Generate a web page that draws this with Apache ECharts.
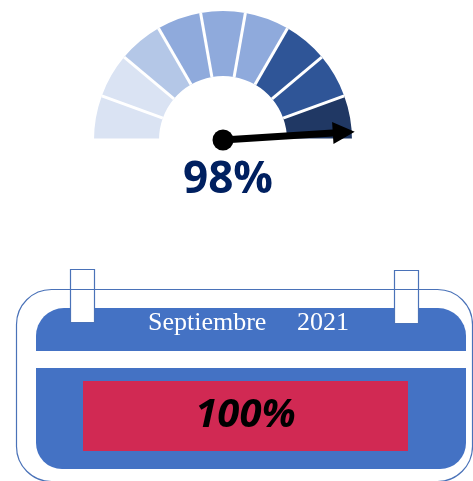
<!DOCTYPE html>
<html>
<head>
<meta charset="utf-8">
<script src="https://cdn.jsdelivr.net/npm/echarts@6/dist/echarts.min.js"></script>
<style>
  html, body { margin: 0; padding: 0; background: #fff; }
  #chart { width: 473px; height: 481px; }
</style>
</head>
<body>
<div id="chart"></div>
<script>
// gauge data
const segmentColors = ['#dae3f3', '#dae3f3', '#b4c7e7', '#8faadc', '#8faadc', '#8faadc', '#2f5597', '#2f5597', '#203864'];
const gaugeValue = 98;

// calendar data
const monthLabel = 'Septiembre';
const yearLabel = '2021';
const progressCategory = ['Septiembre 2021'];
const progressValue = [100];

const blue = '#4472c4';
const edge = '#4a72b8';

let myChart = echarts.init(document.getElementById('chart'));

// color stops for the gauge ring, one per segment
let stops = segmentColors.map((c, i) => [(i + 1) / segmentColors.length, c]);

let option = {
  animation: false,
  graphic: [
    {
      type: 'rect', z: 0,
      shape: { x: 16.5, y: 289.5, width: 456, height: 192, r: 35 },
      style: { fill: '#fff', stroke: 'none' }
    },
    {
      type: 'rect', z: 1,
      shape: { x: 36, y: 308, width: 430, height: 43, r: [28, 28, 0, 0] },
      style: { fill: blue }
    },
    {
      type: 'rect', z: 1,
      shape: { x: 36, y: 368, width: 430, height: 101, r: [0, 0, 26, 26] },
      style: { fill: blue }
    },
    {
      type: 'rect', z: 2,
      shape: { x: 70.5, y: 269.5, width: 24, height: 53 },
      style: { fill: '#fff', stroke: edge, lineWidth: 1.2 }
    },
    {
      type: 'rect', z: 2,
      shape: { x: 394.5, y: 270.5, width: 24, height: 53 },
      style: { fill: '#fff', stroke: edge, lineWidth: 1.2 }
    },
    {
      type: 'rect', z: 3,
      shape: { x: 16.5, y: 289.5, width: 456, height: 192, r: 35 },
      style: { fill: 'none', stroke: edge, lineWidth: 1.2 }
    },
    {
      type: 'text', z: 4, x: 148, y: 323,
      style: {
        text: monthLabel, fill: '#fff',
        font: '26px "Liberation Serif", serif',
        verticalAlign: 'middle'
      }
    },
    {
      type: 'text', z: 4, x: 297, y: 323,
      style: {
        text: yearLabel, fill: '#fff',
        font: '26px "Liberation Serif", serif',
        verticalAlign: 'middle'
      }
    }
  ],
  grid: { left: 83, top: 381, width: 325, height: 70 },
  xAxis: { type: 'value', min: 0, max: 100, show: false },
  yAxis: { type: 'category', data: progressCategory, show: false },
  series: [
    {
      type: 'gauge',
      center: [223, 140],
      radius: 129,
      startAngle: 180,
      endAngle: 0,
      min: 0,
      max: 100,
      splitNumber: segmentColors.length,
      axisLine: { lineStyle: { width: 65, color: stops } },
      splitLine: { show: true, distance: -65, length: 65, lineStyle: { color: '#fff', width: 3 } },
      axisTick: { show: false },
      axisLabel: { show: false },
      pointer: {
        icon: 'path://M11,0 L22,22 L14.5,22 L14.5,132 L7.5,132 L7.5,22 L0,22 Z',
        length: 132,
        width: 22,
        offsetCenter: [0, 0],
        itemStyle: { color: '#000' }
      },
      anchor: { show: true, showAbove: true, size: 21, itemStyle: { color: '#000' } },
      title: { show: false },
      detail: {
        formatter: '{value}%',
        offsetCenter: [5, 40],
        fontSize: 44,
        fontWeight: 'bold',
        fontFamily: 'Open Sans',
        color: '#002060'
      },
      data: [{ value: gaugeValue }]
    },
    {
      type: 'bar',
      data: progressValue,
      barWidth: 70,
      itemStyle: { color: '#d12953' },
      label: {
        show: true,
        position: 'inside',
        formatter: '{c}%',
        fontSize: 40,
        fontWeight: 'bold',
        fontStyle: 'italic',
        fontFamily: 'Open Sans',
        color: '#000'
      }
    }
  ]
};

myChart.setOption(option);
</script>
</body>
</html>
